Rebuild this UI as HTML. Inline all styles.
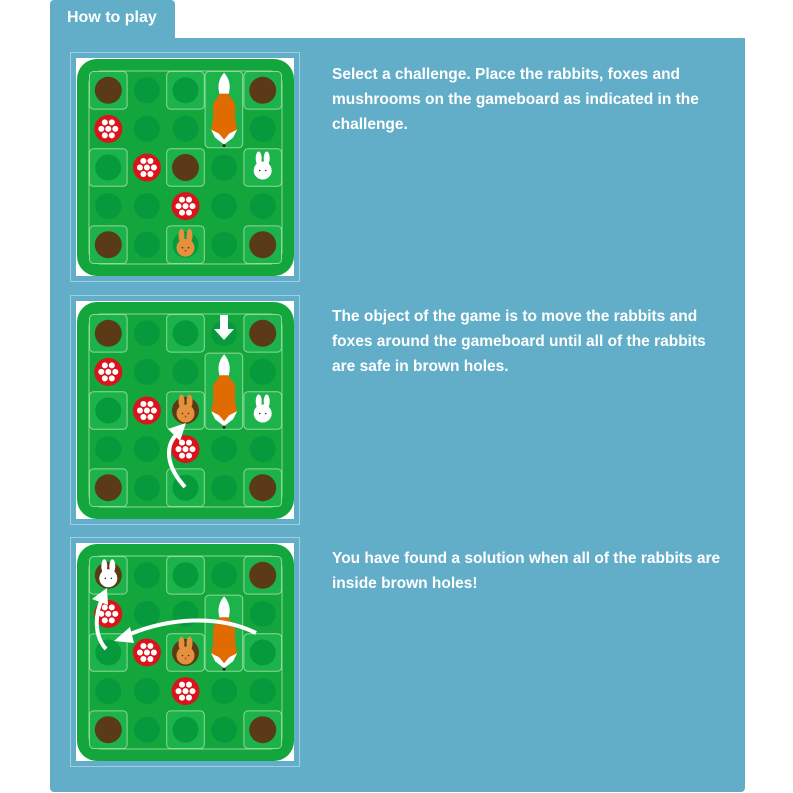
<!DOCTYPE html>
<html><head><meta charset="utf-8"><style>
body{margin:0;background:#fff;width:793px;height:793px;position:relative;overflow:hidden;font-family:"Liberation Sans",sans-serif}
.tab{position:absolute;left:50px;top:0;width:125px;height:40px;background:#62aec9;border-radius:4px 4px 0 0}
.tab span{position:absolute;left:17px;top:9px;color:#fff;font-size:16px;font-weight:bold}
.panel{position:absolute;left:50px;top:38px;width:695px;height:754px;background:#62aec9;border-radius:0 0 4px 4px}
.t{position:absolute;left:332px;color:#fff;font-size:15.5px;font-weight:bold;line-height:25px;white-space:nowrap;letter-spacing:0}
svg{position:absolute;left:0;top:0}
</style></head><body>
<div class="tab"><span>How to play</span></div>
<div class="panel"></div>
<div class="t" style="top:62px">Select a challenge. Place the rabbits, foxes and<br>mushrooms on the gameboard as indicated in the<br>challenge.</div>
<div class="t" style="top:304px">The object of the game is to move the rabbits and<br>foxes around the gameboard until all of the rabbits<br>are safe in brown holes.</div>
<div class="t" style="top:546px">You have found a solution when all of the rabbits are<br>inside brown holes!</div>
<svg width="793" height="793" viewBox="0 0 793 793">
<defs>
<g id="board">
<rect x="0.5" y="0.5" width="229" height="229" fill="none" stroke="#9fd0e0" stroke-width="1"/>
<rect x="6" y="6" width="218" height="218" fill="#fff"/>
<rect x="7" y="7" width="217" height="217" rx="20" fill="#12a63c"/>
<rect x="19" y="19" width="193" height="193" rx="12" fill="none" stroke="#8fd89a" stroke-width="1"/>
<g fill="#1cb34a" stroke="#8fd89a" stroke-width="1">
<rect x="19.5" y="19.5" width="37.6" height="37.6" rx="4"/><rect x="96.7" y="19.5" width="37.6" height="37.6" rx="4"/><rect x="173.9" y="19.5" width="37.6" height="37.6" rx="4"/>
<rect x="19.5" y="96.7" width="37.6" height="37.6" rx="4"/><rect x="96.7" y="96.7" width="37.6" height="37.6" rx="4"/><rect x="173.9" y="96.7" width="37.6" height="37.6" rx="4"/>
<rect x="19.5" y="173.9" width="37.6" height="37.6" rx="4"/><rect x="96.7" y="173.9" width="37.6" height="37.6" rx="4"/><rect x="173.9" y="173.9" width="37.6" height="37.6" rx="4"/>
</g>
<g fill="#079a3c">
<circle cx="38.3" cy="76.9" r="13"/><circle cx="76.9" cy="38.3" r="13"/><circle cx="76.9" cy="76.9" r="13"/><circle cx="115.5" cy="38.3" r="13"/><circle cx="115.5" cy="76.9" r="13"/><circle cx="154.1" cy="38.3" r="13"/><circle cx="154.1" cy="76.9" r="13"/><circle cx="192.7" cy="76.9" r="13"/>
<circle cx="38.3" cy="115.5" r="13"/><circle cx="76.9" cy="115.5" r="13"/><circle cx="154.1" cy="115.5" r="13"/>
<circle cx="38.3" cy="154.1" r="13"/><circle cx="76.9" cy="154.1" r="13"/><circle cx="115.5" cy="154.1" r="13"/><circle cx="154.1" cy="154.1" r="13"/><circle cx="192.7" cy="154.1" r="13"/>
<circle cx="76.9" cy="192.7" r="13"/><circle cx="115.5" cy="192.7" r="13"/><circle cx="154.1" cy="192.7" r="13"/>
</g>
<g fill="#5a3a17"><circle cx="38.3" cy="38.3" r="13.5"/><circle cx="192.7" cy="38.3" r="13.5"/><circle cx="115.5" cy="115.5" r="13.5"/><circle cx="38.3" cy="192.7" r="13.5"/><circle cx="192.7" cy="192.7" r="13.5"/></g>
<use href="#mush" x="38.3" y="76.9"/><use href="#mush" x="76.9" y="115.5"/><use href="#mush" x="115.5" y="154.1"/>
</g>
<g id="mush"><circle r="14" fill="#d9141c"/><g fill="#fff"><circle cx="0" cy="0" r="3"/><circle cx="-7" cy="0" r="3"/><circle cx="7" cy="0" r="3"/><circle cx="-3.5" cy="-6.5" r="3"/><circle cx="3.5" cy="-6.5" r="3"/><circle cx="-3.5" cy="6.5" r="3"/><circle cx="3.5" cy="6.5" r="3"/></g></g>
<g id="foxtile"><rect x="-19" y="-38.1" width="37.6" height="76.2" rx="4" fill="#1cb34a" stroke="#8fd89a"/>
<path d="M0,-37 C6,-30 7,-22 4,-14 L-4,-14 C-7,-22 -6,-30 0,-37Z" fill="#fff"/>
<path d="M-4,-16 L4,-16 L11,-6 L11,10 L13,20 L7,27 L0,36 L-7,27 L-13,20 L-11,10 L-11,-6Z" fill="#e06b00"/>
<path d="M-13,20 L-5,24 L0,30 L5,24 L13,20 L9,28 L0,35 L-9,28Z" fill="#fff"/><circle cx="0" cy="36" r="1.5" fill="#222"/></g>
<g id="rabW"><ellipse cx="-4" cy="-9" rx="3" ry="7" fill="#fff"/><ellipse cx="4" cy="-9" rx="3" ry="7" fill="#fff"/><circle r="9" cy="3" fill="#fff"/><circle cx="-3" cy="3" r="0.8" fill="#333"/><circle cx="3" cy="3" r="0.8" fill="#333"/></g>
<g id="rabB"><ellipse cx="-4" cy="-9" rx="3" ry="7" fill="#e5903a"/><ellipse cx="4" cy="-9" rx="3" ry="7" fill="#e5903a"/><circle r="9" cy="3" fill="#e5903a"/><circle cx="-3" cy="3" r="0.8" fill="#333"/><circle cx="3" cy="3" r="0.8" fill="#333"/><circle cx="0" cy="6" r="1" fill="#b44"/></g>
</defs>
<g transform="translate(70,52)"><use href="#board"/><use href="#foxtile" x="154.1" y="57.6"/><use href="#rabW" x="192.7" y="115.5"/><use href="#rabB" x="115.5" y="192.7"/></g>
<g transform="translate(70,295)"><use href="#board"/><use href="#foxtile" x="154.1" y="96.2"/><use href="#rabW" x="192.7" y="115.5"/><use href="#rabB" x="115.5" y="115.5"/>
<path d="M150,20 L158,20 L158,34 L164,34 L154,45 L144,34 L150,34Z" fill="#fff"/>
<path d="M115,192 C95,170 95,150 108,138" fill="none" stroke="#fff" stroke-width="4"/><path d="M116,128 L98,134 L110,146Z" fill="#fff"/></g>
<g transform="translate(70,537)"><use href="#board"/><circle cx="192.7" cy="115.5" r="13" fill="#079a3c"/><use href="#foxtile" x="154.1" y="96.2"/><use href="#rabW" x="38.3" y="38.3"/><use href="#rabB" x="115.5" y="115.5"/>
<path d="M186,96 C150,78 100,80 58,98" fill="none" stroke="#fff" stroke-width="4"/><path d="M44,104 L60,90 L64,106Z" fill="#fff"/>
<path d="M36,112 C25,100 24,80 32,62" fill="none" stroke="#fff" stroke-width="4"/><path d="M37,51 L22,62 L38,68Z" fill="#fff"/></g>
</svg>
</body></html>
